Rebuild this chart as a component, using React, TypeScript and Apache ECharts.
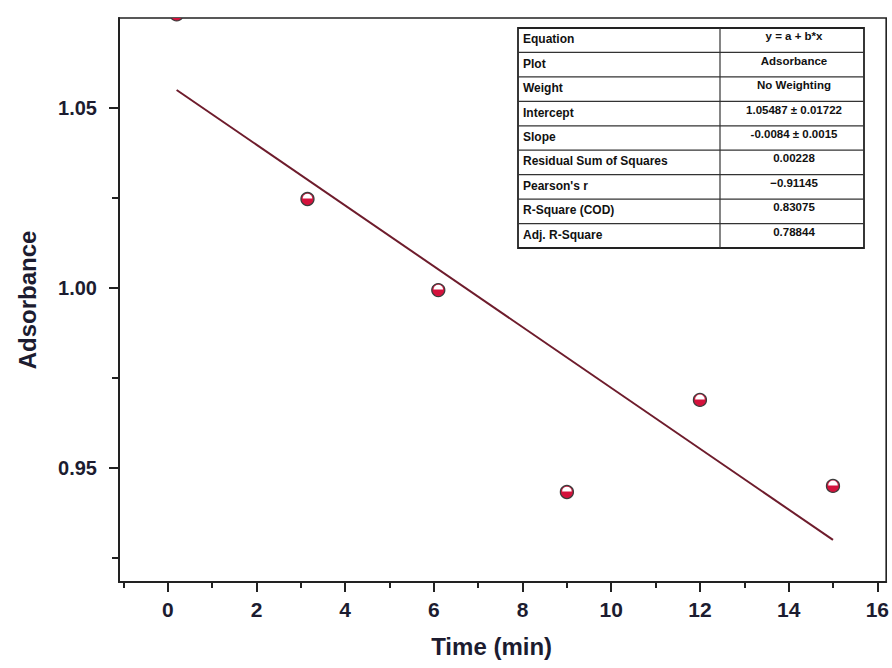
import React, { useEffect, useRef } from "react";
import * as echarts from "echarts";

const times = [0.2, 3.15, 6.1, 9.0, 12.0, 15.0];
const absorbance = [1.076, 1.0247, 0.9994, 0.9433, 0.9689, 0.945];
const fitTimes = [0.2, 15.0];
const fitValues = [1.055, 0.93];
const xMajorTicks = [0, 2, 4, 6, 8, 10, 12, 14, 16];
const xMinorTicks = [-1, 1, 3, 5, 7, 9, 11, 13, 15];
const yMajorTicks = [0.95, 1.0, 1.05];
const yMinorTicks = [0.925, 0.975, 1.025];
const tableLabels = [
  "Equation",
  "Plot",
  "Weight",
  "Intercept",
  "Slope",
  "Residual Sum of Squares",
  "Pearson's r",
  "R-Square (COD)",
  "Adj. R-Square",
];
const tableValues = [
  "y = a + b*x",
  "Adsorbance",
  "No Weighting",
  "1.05487 ± 0.01722",
  "-0.0084 ± 0.0015",
  "0.00228",
  "−0.91145",
  "0.83075",
  "0.78844",
];

const FONT = "'Liberation Sans', Arial, sans-serif";
const LABEL_COLOR = "#1c1c30";

function buildTable() {
  const left = 518;
  const top = 28;
  const right = 864;
  const bottom = 248;
  const mid = 720;
  const rowH = (bottom - top) / tableLabels.length;
  const children: any[] = [];
  children.push({
    type: "rect",
    shape: { x: left, y: top, width: right - left, height: bottom - top },
    style: { fill: "#ffffff", stroke: "#222222", lineWidth: 1.8 },
  });
  for (let i = 1; i < tableLabels.length; i++) {
    const y = top + rowH * i;
    children.push({
      type: "line",
      shape: { x1: left, y1: y, x2: right, y2: y },
      style: { stroke: "#333333", lineWidth: 1.2 },
    });
  }
  children.push({
    type: "line",
    shape: { x1: mid, y1: top, x2: mid, y2: bottom },
    style: { stroke: "#333333", lineWidth: 1.2 },
  });
  tableLabels.forEach((lab, i) => {
    const cy = top + rowH * i + rowH / 2 - 1;
    children.push({
      type: "text",
      x: left + 5,
      y: cy,
      style: {
        text: lab,
        font: `bold 12px ${FONT}`,
        fill: "#111111",
        textAlign: "left",
        textVerticalAlign: "middle",
      },
    });
    children.push({
      type: "text",
      x: (mid + right) / 2 + 2,
      y: cy - 3,
      style: {
        text: tableValues[i],
        font: `bold 11.5px ${FONT}`,
        fill: "#111111",
        textAlign: "center",
        textVerticalAlign: "middle",
      },
    });
  });
  return children;
}

export default function App() {
  const ref = useRef<HTMLDivElement>(null);
  useEffect(() => {
    if (!ref.current) return;
    const chart = echarts.init(ref.current, undefined, { renderer: "svg" });
    const xMin = -1.1;
    const xMax = 16.2;
    const yMin = 0.9183;
    const yMax = 1.075;
    const option: any = {
      animation: false,
      backgroundColor: "#ffffff",
      grid: {
        left: 119,
        right: 1,
        top: 18,
        bottom: 86,
        show: true,
        borderColor: "#222222",
        borderWidth: 1.6,
        backgroundColor: "transparent",
      },
      xAxis: [
        {
          type: "value",
          min: xMin,
          max: xMax,
          position: "bottom",
          splitLine: { show: false },
          axisLine: { show: true, onZero: false, lineStyle: { color: "#222", width: 2 } },
          axisTick: {
            show: true,
            customValues: xMajorTicks,
            length: 10,
            lineStyle: { color: "#222", width: 2 },
          },
          axisLabel: {
            customValues: xMajorTicks,
            margin: 17,
            fontFamily: FONT,
            fontWeight: "bold",
            fontSize: 21,
            color: LABEL_COLOR,
          },
          name: "Time (min)",
          nameLocation: "middle",
          nameGap: 52,
          nameTextStyle: {
            fontFamily: FONT,
            fontWeight: "bold",
            fontSize: 24,
            color: LABEL_COLOR,
            padding: [0, 22, 0, 0],
          },
        },
        {
          type: "value",
          min: xMin,
          max: xMax,
          position: "bottom",
          splitLine: { show: false },
          axisLine: { show: false, onZero: false },
          axisTick: {
            show: true,
            customValues: xMinorTicks,
            length: 6,
            lineStyle: { color: "#222", width: 2 },
          },
          axisLabel: { show: false },
        },
      ],
      yAxis: [
        {
          type: "value",
          min: yMin,
          max: yMax,
          position: "left",
          splitLine: { show: false },
          axisLine: { show: true, onZero: false, lineStyle: { color: "#222", width: 2 } },
          axisTick: {
            show: true,
            customValues: yMajorTicks,
            length: 10,
            lineStyle: { color: "#222", width: 2 },
          },
          axisLabel: {
            customValues: yMajorTicks,
            margin: 22,
            fontFamily: FONT,
            fontWeight: "bold",
            fontSize: 20,
            color: LABEL_COLOR,
            formatter: (v: number) => v.toFixed(2),
          },
          name: "Adsorbance",
          nameLocation: "middle",
          nameGap: 80,
          nameTextStyle: {
            fontFamily: FONT,
            fontWeight: "bold",
            fontSize: 24,
            color: LABEL_COLOR,
          },
        },
        {
          type: "value",
          min: yMin,
          max: yMax,
          position: "left",
          splitLine: { show: false },
          axisLine: { show: false, onZero: false },
          axisTick: {
            show: true,
            customValues: yMinorTicks,
            length: 7,
            lineStyle: { color: "#222", width: 2 },
          },
          axisLabel: { show: false },
        },
      ],
      series: [
        {
          type: "line",
          data: fitTimes.map((t, i) => [t, fitValues[i]]),
          symbol: "none",
          lineStyle: { color: "#6e1c2c", width: 2 },
          z: 2,
        },
        {
          type: "custom",
          clip: true,
          data: times.map((t, i) => [t, absorbance[i]]),
          renderItem: (params: any, api: any) => {
            const p = api.coord([api.value(0), api.value(1)]);
            const r = 6.5;
            return {
              type: "group",
              children: [
                {
                  type: "circle",
                  shape: { cx: p[0], cy: p[1], r },
                  style: { fill: "#d4123c", stroke: "#3c3c3c", lineWidth: 1.3 },
                },
                {
                  type: "sector",
                  shape: {
                    cx: p[0],
                    cy: p[1] - 0.5,
                    r: r - 1.7,
                    r0: 0,
                    startAngle: Math.PI,
                    endAngle: 2 * Math.PI,
                    clockwise: true,
                  },
                  style: { fill: "#ffffff" },
                },
              ],
            };
          },
          z: 3,
        },
      ],
      graphic: buildTable(),
    };
    chart.setOption(option);
    return () => chart.dispose();
  }, []);
  return (
    <div
      ref={ref}
      style={{ position: "fixed", left: 0, top: 0, width: 892, height: 668 }}
    />
  );
}
